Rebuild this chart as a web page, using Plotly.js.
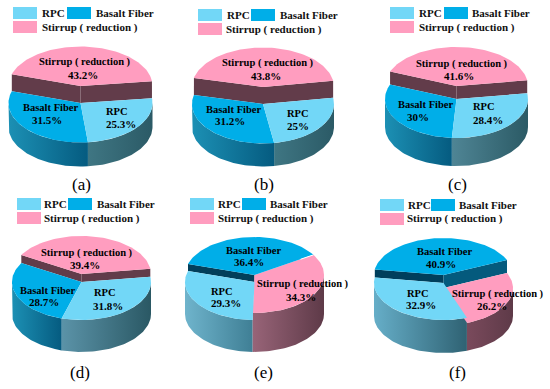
<!DOCTYPE html>
<html><head><meta charset="utf-8">
<script src="https://cdn.plot.ly/plotly-3.0.1.min.js"></script>
<style>html,body{margin:0;padding:0;background:#fff}#c{width:550px;height:389px}</style>
</head><body><div id="c"></div>
<script>
const categories = ["RPC", "Basalt Fiber", "Stirrup ( reduction )"];
const panelNames = ["(a)", "(b)", "(c)", "(d)", "(e)", "(f)"];
const rpcValues = [25.3, 25, 28.4, 31.8, 29.3, 32.9];
const basaltValues = [31.5, 31.2, 30, 28.7, 36.4, 40.9];
const stirrupValues = [43.2, 43.8, 41.6, 39.4, 34.3, 26.2];

// Picture geometry of each pie (separate from the data)
const panels = [
 {cx:80.5, rx:72, ry:39.5, start:7, cy:[103,103,86], base:127, label:[81,184],
  wall:[["#623c4a",2,1],["#623c4a",2,0]],
  side:[["#3f7683","#2b5a66"],["#1c90b4","#055b80"],null],
  text:[[117,111,121,124],[50,107,47,120],[85,62,83,75]],
  sw:[[13,7],[67,7],[13,21]], tx:[[41,13],[95,13],[41,27]]},
 {cx:263, rx:71, ry:39.5, start:9, cy:[104,104,87], base:127, label:[264,184],
  wall:[["#623c4a",2,1],["#623c4a",2,0]],
  side:[["#3f7683","#2b5a66"],["#1c90b4","#055b80"],null],
  text:[[298,113,298,126],[233,109,230,121],[268,63,266,76]],
  sw:[[198,9],[251,9],[198,23]], tx:[[226,15],[279,15],[225,29]]},
 {cx:456.5, rx:71.5, ry:39, start:8.5, cy:[99,99,86], base:127, label:[457,184],
  wall:[["#623c4a",2,1],["#623c4a",2,0]],
  side:[["#4f8595","#2b5a65"],["#1c90b4","#055b80"],null],
  text:[[484,106,488,120],[425,104,418,117],[462,64,459,76]],
  sw:[[390,7],[444,7],[390,21]], tx:[[418,13],[471,13],[418,27]]},
 {cx:81.5, rx:69.5, ry:38, start:8, cy:[282,282,274], base:314, label:[80,372],
  wall:[["#623c4a",2,1],["#623c4a",2,0]],
  side:[["#5b93a8","#2a5864"],["#1c90b4","#055b80"],null],
  text:[[105,292,108,306],[47,290,44,302],[87,253,85,265]],
  sw:[[17,198],[68,198],[17,212]], tx:[[43,204],[96,204],[43,218]]},
 {cx:254.5, rx:69.5, ry:38, start:-91.5, cy:[282,275,275], base:314, label:[263,372],
  wall:[["#023f5a",1,0]], glint:true,
  side:[["#6fb4cc","#3f7f95"],null,["#986478","#5e3a48"]],
  text:[[222,291,226,303],[253,250,249,262],[303,284,301,297]],
  sw:[[190,198],[242,198],[190,212]], tx:[[217,204],[269,204],[217,218]]},
 {cx:443.5, rx:69.5, ry:37, start:-70.3, cy:[283,275,288], base:316, label:[457,372],
  wall:[["#003f5c",1,0],["#045a7d",1,2]],
  side:[["#66aec8","#2f6273"],null,["#7a4a5c","#5e3a48"]],
  text:[[418,293,421,305],[444,251,441,264],[498,294,492,306]],
  sw:[[380,199],[431,199],[380,213]], tx:[[407,205],[458,205],[406,218]]}
];
const topColors = ["#72d7f7", "#00aee8", "#ff9dbf"];
const serif = "'Liberation Serif', serif";

const rad = d => d * Math.PI / 180;
function pt(p, cy, t) { return [p.cx + p.rx * Math.cos(rad(t)), cy - p.ry * Math.sin(rad(t))]; }
function arc(p, cy, a, b) {
  const n = Math.max(2, Math.ceil(Math.abs(a - b) / 2)), o = [];
  for (let i = 0; i <= n; i++) o.push(pt(p, cy, a + (b - a) * i / n));
  return o;
}
function poly(points, color, grad) {
  const tr = {type:"scatter", mode:"lines", x:points.map(q=>q[0]), y:points.map(q=>q[1]),
    fill:"toself", line:{width:0}, hoverinfo:"skip", showlegend:false};
  if (grad) tr.fillgradient = {type:"horizontal", colorscale:[[0,grad[0]],[1,grad[1]]]};
  else tr.fillcolor = color;
  return tr;
}

const traces = [], annotations = [], shapes = [];
panels.forEach((p, i) => {
  const vals = [rpcValues[i], basaltValues[i], stirrupValues[i]];
  const total = vals[0] + vals[1] + vals[2];
  const ang = []; let t = p.start;
  vals.forEach(v => { const e = t - 360 * v / total; ang.push([t, e]); t = e; });

  // outer side walls
  ang.forEach((a, k) => {
    if (!p.side[k]) return;
    [0, -360].forEach(s => {
      const hi = Math.min(a[0], s), lo = Math.max(a[1], s - 180);
      if (hi <= lo) return;
      traces.push(poly(arc(p, p.cy[k], hi, lo).concat(arc(p, p.base, lo, hi)), null, p.side[k]));
    });
  });
  // inner walls of the raised slice
  p.wall.forEach(w => {
    const k = w[1], other = w[2];
    // the wall sits on the edge the raised slice shares with its neighbour
    const edge = (k === 2) ? (other === 1 ? ang[2][0] : ang[2][1])
                           : (other === 0 ? ang[1][0] : ang[1][1]);
    const hi = p.cy[k], lo = p.cy[other];
    const a = pt(p, hi, edge), b = pt(p, lo, edge);
    traces.push(poly([[p.cx, hi], a, b, [p.cx, lo], [p.cx, hi]], w[0]));
  });
  // top surfaces
  [2, 1, 0].forEach(k => {
    const pts = [[p.cx, p.cy[k]]].concat(arc(p, p.cy[k], ang[k][0], ang[k][1]));
    pts.push([p.cx, p.cy[k]]);
    traces.push(poly(pts, topColors[k]));
  });
  if (p.glint) {
    const e = pt(p, p.cy[1], ang[1][1]);
    traces.push({type:"scatter", mode:"lines", x:[p.cx+(e[0]-p.cx)*0.78, e[0]], y:[p.cy[1]+(e[1]-p.cy[1])*0.78, e[1]],
      line:{width:1,color:"#ffffff"}, hoverinfo:"skip", showlegend:false});
  }
  // labels
  categories.forEach((c, k) => {
    const tp = p.text[k];
    annotations.push({x:tp[0], y:tp[1], text:"<b>"+c+"</b>", font:{family:serif,size:10.5,color:"#000"}});
    annotations.push({x:tp[2], y:tp[3], text:"<b>"+vals[k]+"%</b>", font:{family:serif,size:11,color:"#000"}});
    const s = p.sw[k];
    shapes.push({type:"rect", xref:"x", yref:"y", x0:s[0], x1:s[0]+24, y0:s[1], y1:s[1]+12,
      fillcolor:topColors[k], line:{width:0}});
    annotations.push({x:p.tx[k][0], y:p.tx[k][1], xanchor:"left", text:"<b>"+c+"</b>",
      font:{family:serif,size:11,color:"#111"}});
  });
  annotations.push({x:p.label[0], y:p.label[1], text:panelNames[i], font:{family:serif,size:17,color:"#000"}});
});
annotations.forEach(a => { a.xref="x"; a.yref="y"; a.showarrow=false; a.xanchor=a.xanchor||"center"; a.yanchor="middle"; a.borderpad=0; });

const axis = {visible:false, fixedrange:true, showgrid:false, zeroline:false};
Plotly.newPlot("c", traces, {
  width:550, height:389, margin:{l:0,r:0,t:0,b:0}, paper_bgcolor:"#fff", plot_bgcolor:"#fff",
  showlegend:false, hovermode:false,
  xaxis:Object.assign({range:[0,550]}, axis),
  yaxis:Object.assign({range:[389,0]}, axis),
  annotations, shapes
}, {staticPlot:true, displayModeBar:false});
</script></body></html>
